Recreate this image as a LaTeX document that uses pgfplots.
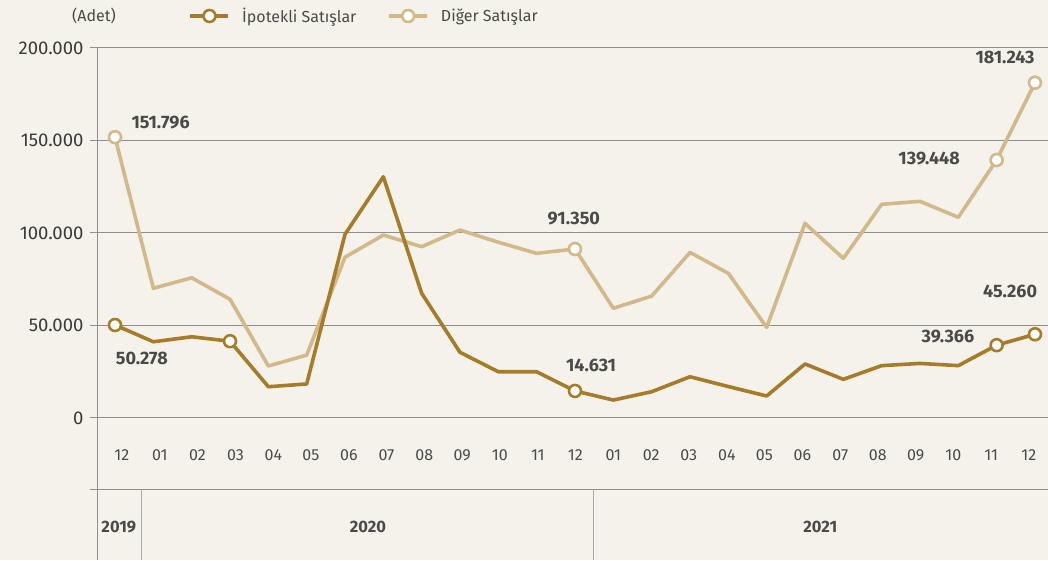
\documentclass[border=0pt]{standalone}
\usepackage{fontspec}
\setmainfont{Fira Sans}
\usepackage{pgfplots}
\pgfplotsset{compat=1.18}
\definecolor{bg}{HTML}{F5F2EB}
\definecolor{dark}{HTML}{A67C2A}
\definecolor{light}{HTML}{D3B98A}
\definecolor{gridc}{HTML}{8E8E8E}
\definecolor{sepc}{HTML}{AAAAAA}
\definecolor{txt}{HTML}{4A4A4A}
\definecolor{ticktxt}{HTML}{3A3A3A}
\newcommand{\fs}{\fontsize{16}{19}\selectfont}
\newcommand{\fb}{\fontsize{18}{20}\selectfont\bfseries}
\newcommand{\fy}{\fontsize{16.5}{19}\selectfont\bfseries}
\begin{document}
\begin{tikzpicture}[x=1pt,y=1pt]
\fill[bg] (0,0) rectangle (1048,560);
\useasboundingbox (0,0) rectangle (1048,560);
\node[text=txt, font=\fs] at (94,544) {(Adet)};
\begin{axis}[
  at={(97pt,0pt)}, anchor=south west,
  scale only axis, width=951pt, height=512pt,
  xmin=-0.47, xmax=24.34, ymin=-76760, ymax=200000,
  axis x line=none, axis y line*=left,
  axis line style={gridc, line width=1pt},
  clip=false,
  scaled y ticks=false,
  ytick={0,50000,100000,150000,200000},
  yticklabels={0,50.000,100.000,150.000,200.000},
  extra y ticks={-38400}, extra y tick labels={},
  extra y tick style={ymajorgrids=true},
  ymajorgrids=true,
  grid style={gridc, line width=1pt},
  major tick length=7pt, tick align=outside,
  major tick style={gridc, line width=1pt},
  yticklabel style={font=\fontsize{18.5}{20}\selectfont, text=ticktxt, xshift=-3pt},
  legend style={at={(0.093,1.0625)}, anchor=west, draw=none, fill=none,
    font=\fs, text=txt, legend columns=2,
    /tikz/every odd column/.append style={column sep=10pt},
    /tikz/every even column/.append style={column sep=29pt}},
  legend image code/.code={
    \draw[mark repeat=2,mark phase=2,#1] plot coordinates {(0pt,0pt) (19pt,0pt) (38pt,0pt)};
  },
]
\addlegendimage{dark, line width=3.6pt, mark=*, mark size=6pt, mark options={fill=white, draw=dark, line width=2.6pt}}
\addlegendentry{İpotekli Satışlar}
\addlegendimage{light, line width=3.6pt, mark=*, mark size=6pt, mark options={fill=white, draw=light, line width=2.6pt}}
\addlegendentry{Diğer Satışlar}

% Diğer Satışlar
\addplot[light, line width=3.6pt, line join=round, mark=*, mark size=6pt,
  mark options={fill=white, draw=light, line width=2.6pt},
  mark indices={1,13,24,25}, forget plot] coordinates {
(0,151796) (1,70100) (2,75800) (3,64200) (4,28100) (5,34000) (6,86900)
(7,98900) (8,92600) (9,101600) (10,95000) (11,89000) (12,91350)
(13,59300) (14,65900) (15,89500) (16,78200) (17,49000) (18,105200)
(19,86300) (20,115500) (21,117100) (22,108500) (23,139448) (24,181243)
};
% İpotekli Satışlar
\addplot[dark, line width=3.6pt, line join=round, mark=*, mark size=6pt,
  mark options={fill=white, draw=dark, line width=2.6pt},
  mark indices={1,4,13,24,25}, forget plot] coordinates {
(0,50278) (1,41200) (2,43900) (3,41500) (4,16900) (5,18400) (6,99300)
(7,130400) (8,67400) (9,35500) (10,25000) (11,25000) (12,14631)
(13,9700) (14,14200) (15,22300) (16,17000) (17,11900) (18,29200)
(19,20900) (20,28300) (21,29500) (22,28300) (23,39366) (24,45260)
};

% data labels
\node[font=\fb, text=txt] at (axis cs:1.19,159500) {151.796};
\node[font=\fb, text=txt] at (axis cs:0.70,32400) {50.278};
\node[font=\fb, text=txt] at (axis cs:11.97,107560) {91.350};
\node[font=\fb, text=txt] at (axis cs:12.42,28650) {14.631};
\node[font=\fb, text=txt] at (axis cs:21.24,140530) {139.448};
\node[font=\fb, text=txt] at (axis cs:23.22,195120) {181.243};
\node[font=\fb, text=txt] at (axis cs:21.73,43780) {39.366};
\node[font=\fb, text=txt] at (axis cs:23.35,68640) {45.260};

% month labels
\begin{scope}[every node/.style={font=\fs, text=txt}]
\node at (axis cs:0.18,-20000) {12};
\node at (axis cs:1.17,-20000) {01};
\node at (axis cs:2.15,-20000) {02};
\node at (axis cs:3.14,-20000) {03};
\node at (axis cs:4.13,-20000) {04};
\node at (axis cs:5.11,-20000) {05};
\node at (axis cs:6.10,-20000) {06};
\node at (axis cs:7.08,-20000) {07};
\node at (axis cs:8.07,-20000) {08};
\node at (axis cs:9.06,-20000) {09};
\node at (axis cs:10.04,-20000) {10};
\node at (axis cs:11.03,-20000) {11};
\node at (axis cs:12.01,-20000) {12};
\node at (axis cs:13.00,-20000) {01};
\node at (axis cs:13.99,-20000) {02};
\node at (axis cs:14.97,-20000) {03};
\node at (axis cs:15.96,-20000) {04};
\node at (axis cs:16.94,-20000) {05};
\node at (axis cs:17.93,-20000) {06};
\node at (axis cs:18.92,-20000) {07};
\node at (axis cs:19.90,-20000) {08};
\node at (axis cs:20.89,-20000) {09};
\node at (axis cs:21.87,-20000) {10};
\node at (axis cs:22.86,-20000) {11};
\node at (axis cs:23.84,-20000) {12};
\end{scope}

% year separators and labels
\draw[sepc, line width=0.8pt] (axis cs:0.68,-38400) -- (axis cs:0.68,-76760);
\draw[sepc, line width=0.8pt] (axis cs:12.47,-38400) -- (axis cs:12.47,-76760);
\node[font=\fy, text=txt] at (axis cs:0.1,-58900) {2019};
\node[font=\fy, text=txt] at (axis cs:6.6,-58900) {2020};
\node[font=\fy, text=txt] at (axis cs:18.4,-58900) {2021};
\end{axis}
\end{tikzpicture}
\end{document}
